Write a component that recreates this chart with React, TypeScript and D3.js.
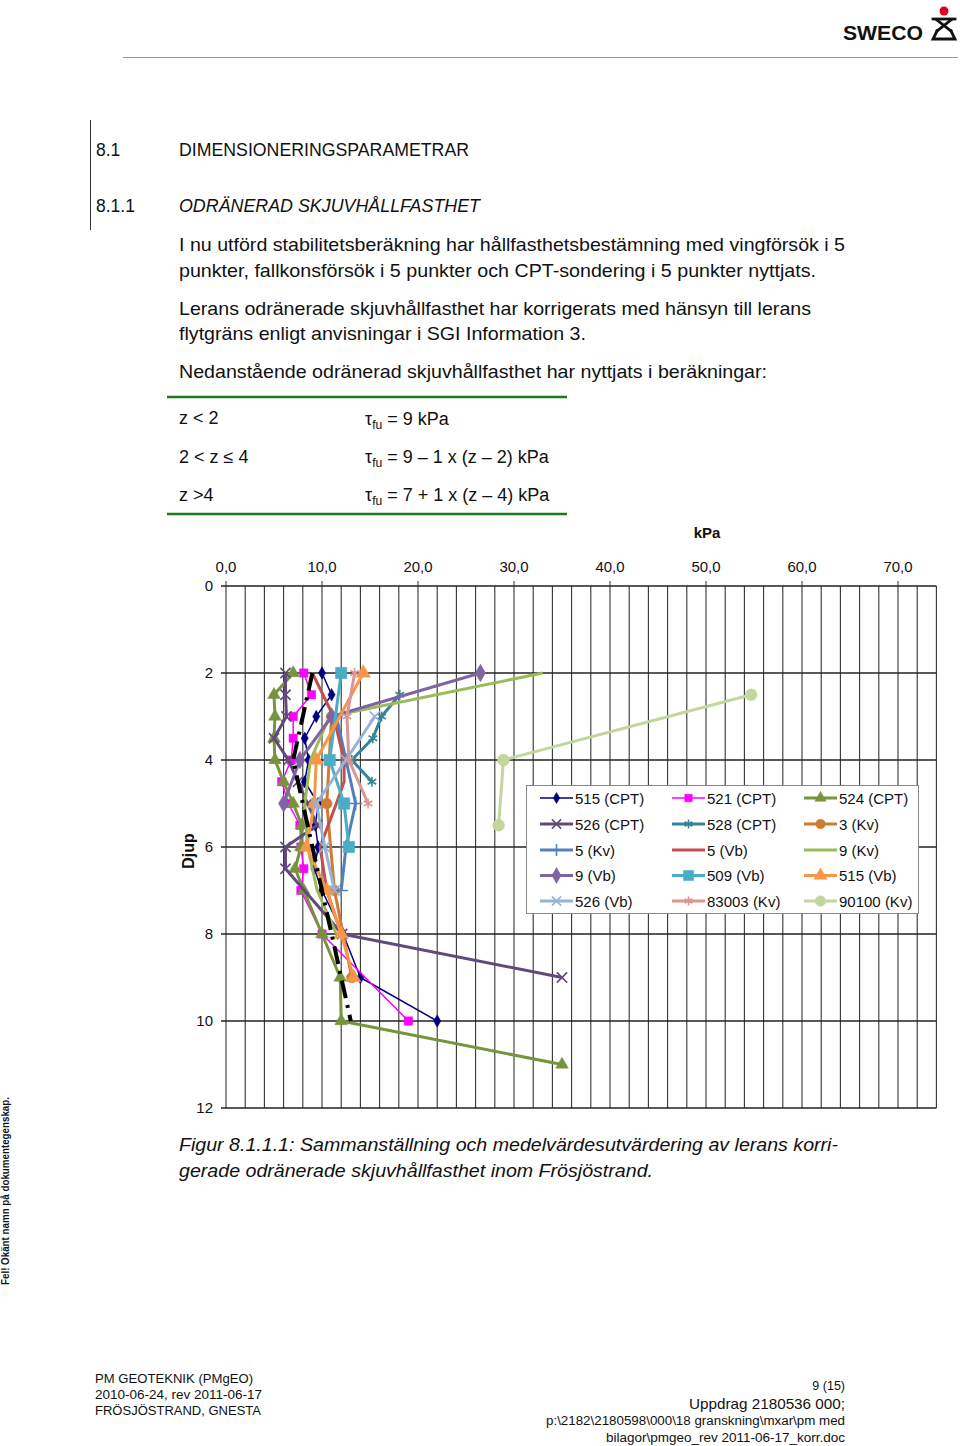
import React from 'react';
import * as d3 from 'd3';

// depth (m) and corrected undrained shear strength (kPa) per sounding
const z515CPT = [2, 2.5, 3, 3.5, 4, 4.5, 5, 5.5, 6, 6.5, 7, 8, 9, 10];
const v515CPT = [10, 11, 9.4, 8.2, 8.6, 8.2, 9.6, 9.3, 9.6, 9.2, 10, 12.2, 14, 22];
const z521CPT = [2, 2.5, 3, 3.5, 4, 4.5, 5, 5.5, 6, 6.5, 7, 8, 10];
const v521CPT = [8.1, 8.9, 7.0, 7.0, 6.8, 5.8, 6.5, 7.7, 7.8, 8.1, 7.8, 10, 19];
const z524CPT = [2, 2.5, 3, 3.5, 4, 4.5, 5, 5.5, 6, 6.5, 7, 8, 9, 10, 11];
const v524CPT = [7, 5, 5.1, 5, 5.1, 6, 7, 7.9, 7.8, 7.2, 8.1, 10, 11.9, 12, 35];
const z526CPT = [2, 2.5, 3, 3.5, 4, 4.5, 5, 5.5, 6, 6.5, 8, 9];
const v526CPT = [6.2, 6.2, 6.3, 5.0, 6.5, 7.5, 8.5, 9.5, 6.2, 6.2, 12.1, 35];
const z528CPT = [2.5, 3, 3.5, 4, 4.5];
const v528CPT = [18.1, 16.2, 15.3, 13.1, 15.2];
const z3Kv = [3, 5, 7, 9];
const v3Kv = [11, 10.5, 11.3, 13.1];
const z5Kv = [3, 4, 5, 6, 7];
const v5Kv = [11.5, 12.5, 13.5, 12.5, 12];
const z5Vb = [2, 3, 4, 4.5, 5, 6, 7, 8];
const v5Vb = [9, 11.2, 12.3, 12.3, 11.5, 9.8, 10.5, 12];
const z9Kv = [2, 3, 4, 5, 6, 7, 8];
const v9Kv = [33, 10.8, 8.8, 8.2, 8.5, 9.5, 11.5];
const z9Vb = [2, 3, 4, 5];
const v9Vb = [26.5, 11, 7.7, 6];
const z509Vb = [2, 4, 5, 6];
const v509Vb = [12, 10.8, 12.3, 12.8];
const z515Vb = [2, 4, 5, 6, 7, 8, 9];
const v515Vb = [14.3, 9.4, 9.2, 8.4, 10.5, 12, 13.3];
const z526Vb = [3, 4, 5, 6, 7];
const v526Vb = [15.5, 12.5, 9.4, 10.3, 11.3];
const z83003Kv = [2, 3, 4, 5];
const v83003Kv = [13.4, 12.6, 12.8, 14.8];
const z90100Kv = [2.5, 4, 5.5];
const v90100Kv = [54.7, 28.9, 28.4];

// evaluated design line (medelvärde)
const zDesign = [2, 4, 10];
const vDesign = [9, 7, 13];

const xTicks = [0, 10, 20, 30, 40, 50, 60, 70];
const yTicks = [0, 2, 4, 6, 8, 10, 12];

const series = [
  { name: '515 (CPT)', z: z515CPT, v: v515CPT, color: '#000080', w: 1.5, m: 'diamond', s: 45 },
  { name: '521 (CPT)', z: z521CPT, v: v521CPT, color: '#FF00FF', w: 1.5, m: 'square', s: 70 },
  { name: '524 (CPT)', z: z524CPT, v: v524CPT, color: '#77933C', w: 3, m: 'triangle', s: 70 },
  { name: '526 (CPT)', z: z526CPT, v: v526CPT, color: '#604A7B', w: 3, m: 'times', s: 70 },
  { name: '528 (CPT)', z: z528CPT, v: v528CPT, color: '#31859C', w: 3, m: 'asterisk', s: 70 },
  { name: '3 (Kv)', z: z3Kv, v: v3Kv, color: '#D07A34', w: 3, m: 'circle', s: 90 },
  { name: '5 (Kv)', z: z5Kv, v: v5Kv, color: '#4F81BD', w: 3, m: 'plus', s: 60 },
  { name: '5 (Vb)', z: z5Vb, v: v5Vb, color: '#C0504D', w: 3, m: 'none', s: 0 },
  { name: '9 (Kv)', z: z9Kv, v: v9Kv, color: '#9BBB59', w: 3, m: 'none', s: 0 },
  { name: '9 (Vb)', z: z9Vb, v: v9Vb, color: '#8064A2', w: 3, m: 'diamond', s: 90 },
  { name: '509 (Vb)', z: z509Vb, v: v509Vb, color: '#4BACC6', w: 3, m: 'square', s: 130 },
  { name: '515 (Vb)', z: z515Vb, v: v515Vb, color: '#F79646', w: 3, m: 'triangle', s: 90 },
  { name: '526 (Vb)', z: z526Vb, v: v526Vb, color: '#95B3D7', w: 3, m: 'times', s: 70 },
  { name: '83003 (Kv)', z: z83003Kv, v: v83003Kv, color: '#D99694', w: 3, m: 'asterisk', s: 70 },
  { name: '90100 (Kv)', z: z90100Kv, v: v90100Kv, color: '#C3D69B', w: 3, m: 'circle', s: 110 },
];

const symbolTypes: any = {
  diamond: d3.symbolDiamond,
  square: d3.symbolSquare,
  triangle: d3.symbolTriangle,
  circle: d3.symbolCircle,
  times: d3.symbolTimes,
  asterisk: d3.symbolAsterisk,
  plus: d3.symbolPlus,
};
const strokeMarkers = ['times', 'asterisk', 'plus'];

const x = d3.scaleLinear().domain([0, 74]).range([226, 936.4]);
const y = d3.scaleLinear().domain([0, 12]).range([586, 1108]);

function Marker({ s, cx, cy, scale = 1 }: any) {
  if (s.m === 'none') return null;
  const path = d3.symbol().type(symbolTypes[s.m]).size(s.s * scale)();
  const stroked = strokeMarkers.includes(s.m);
  return (
    <path
      d={path || ''}
      transform={`translate(${cx},${cy})`}
      fill={stroked ? 'none' : s.color}
      stroke={s.color}
      strokeWidth={stroked ? 1.6 : 0.5}
    />
  );
}

const bodyFont = "'Liberation Sans', Arial, sans-serif";

export default function App() {
  const line = d3
    .line<[number, number]>()
    .x((d) => x(d[1]))
    .y((d) => y(d[0]));

  const legendCols = [540, 672, 804];
  const legendRows = [798, 824, 850, 875.5, 901];

  const bodyLines = [
    { t: 'I nu utförd stabilitetsberäkning har hållfasthetsbestämning med vingförsök i 5', y: 251, w: 666 },
    { t: 'punkter, fallkonsförsök i 5 punkter och CPT-sondering i 5 punkter nyttjats.', y: 277, w: 637 },
    { t: 'Lerans odränerade skjuvhållfasthet har korrigerats med hänsyn till lerans', y: 315, w: 632 },
    { t: 'flytgräns enligt anvisningar i SGI Information 3.', y: 340, w: 407 },
    { t: 'Nedanstående odränerad skjuvhållfasthet har nyttjats i beräkningar:', y: 378, w: 588 },
  ];

  return (
    <svg
      width={960}
      height={1446}
      style={{ position: 'absolute', left: 0, top: 0, background: '#fff' }}
      fontFamily={bodyFont}
    >
      <rect width={960} height={1446} fill="#fff" />

      {/* header logo */}
      <text x={843} y={40} fontSize={20} fontWeight="bold" fill="#111" textLength={80} lengthAdjust="spacingAndGlyphs">
        SWECO
      </text>
      <circle cx={944} cy={11} r={4.5} fill="#e2001a" />
      <g stroke="#111" strokeWidth={2.8} fill="none" strokeLinecap="square">
        <line x1={933} y1={19} x2={955} y2={19} />
        <line x1={937} y1={20} x2={951} y2={31} />
        <line x1={951} y1={20} x2={937} y2={31} />
        <path d="M937,31 L933,39 L955,39 L951,31" />
      </g>
      <line x1={123} y1={57.5} x2={958} y2={57.5} stroke="#999" strokeWidth={1} />

      {/* section headings */}
      <line x1={90.5} y1={120} x2={90.5} y2={230} stroke="#333" strokeWidth={1} />
      <text x={96} y={156} fontSize={17.5} fill="#111">8.1</text>
      <text x={179} y={156} fontSize={17.5} fill="#111" textLength={290} lengthAdjust="spacingAndGlyphs">
        DIMENSIONERINGSPARAMETRAR
      </text>
      <text x={96} y={212} fontSize={17.5} fill="#111">8.1.1</text>
      <text x={179} y={212} fontSize={17.5} fontStyle="italic" fill="#111" textLength={301} lengthAdjust="spacingAndGlyphs">
        ODRÄNERAD SKJUVHÅLLFASTHET
      </text>

      {bodyLines.map((l) => (
        <text key={l.t} x={179} y={l.y} fontSize={18.5} fill="#111" textLength={l.w} lengthAdjust="spacingAndGlyphs">
          {l.t}
        </text>
      ))}

      {/* parameter table */}
      <line x1={167} y1={397} x2={567} y2={397} stroke="#1e7a1e" strokeWidth={2.5} />
      <line x1={167} y1={514} x2={567} y2={514} stroke="#1e7a1e" strokeWidth={2.5} />
      <g fontSize={18} fill="#111">
        <text x={179} y={424}>z &lt; 2</text>
        <text x={179} y={463}>2 &lt; z ≤ 4</text>
        <text x={179} y={501}>z &gt;4</text>
        <text x={365} y={425}>
          τ<tspan fontSize={12} dy={4}>fu</tspan>
          <tspan dy={-4}> = 9 kPa</tspan>
        </text>
        <text x={365} y={463}>
          τ<tspan fontSize={12} dy={4}>fu</tspan>
          <tspan dy={-4}> = 9 – 1 x (z – 2) kPa</tspan>
        </text>
        <text x={365} y={501}>
          τ<tspan fontSize={12} dy={4}>fu</tspan>
          <tspan dy={-4}> = 7 + 1 x (z – 4) kPa</tspan>
        </text>
      </g>

      {/* chart */}
      <text x={707} y={538} fontSize={15} fontWeight="bold" textAnchor="middle" fill="#111">kPa</text>
      <text transform="translate(194,851) rotate(-90)" fontSize={16} fontWeight="bold" textAnchor="middle" fill="#111">Djup</text>

      <g>
        {d3.range(0, 75, 2).map((v) => (
          <line key={'vx' + v} x1={x(v)} x2={x(v)} y1={y(0)} y2={y(12)} stroke="#333" strokeWidth={1.1} />
        ))}
        {yTicks.map((v) => (
          <line key={'hy' + v} x1={x(0) - 5} x2={x(74)} y1={y(v)} y2={y(v)} stroke="#222" strokeWidth={1.3} />
        ))}
        {xTicks.map((v) => (
          <line key={'tx' + v} x1={x(v)} x2={x(v)} y1={y(0) - 5} y2={y(0)} stroke="#333" strokeWidth={1} />
        ))}
        {xTicks.map((v) => (
          <text key={'lx' + v} x={x(v)} y={572} fontSize={15} textAnchor="middle" fill="#111">
            {d3.format('.1f')(v).replace('.', ',')}
          </text>
        ))}
        {yTicks.map((v) => (
          <text key={'ly' + v} x={213} y={y(v) + 5} fontSize={15} textAnchor="end" fill="#111">
            {v}
          </text>
        ))}
      </g>

      {series.map((s) => {
        const pts = s.z.map((zz, i) => [zz, s.v[i]] as [number, number]);
        return (
          <g key={s.name}>
            <path d={line(pts) || ''} fill="none" stroke={s.color} strokeWidth={s.w} strokeLinejoin="round" />
            {pts.map((p, i) => (
              <Marker key={i} s={s} cx={x(p[1])} cy={y(p[0])} />
            ))}
          </g>
        );
      })}

      <path
        d={line(zDesign.map((zz, i) => [zz, vDesign[i]] as [number, number])) || ''}
        fill="none"
        stroke="#000"
        strokeWidth={4}
        strokeDasharray="18 7 3 7"
      />

      {/* legend */}
      <rect x={526.5} y={785.5} width={392} height={128} fill="#fff" stroke="#888" strokeWidth={1} />
      {series.map((s, i) => {
        const lx = legendCols[i % 3];
        const ly = legendRows[Math.floor(i / 3)];
        return (
          <g key={'lg' + s.name}>
            <line x1={lx} x2={lx + 33} y1={ly} y2={ly} stroke={s.color} strokeWidth={s.w} />
            <Marker s={s} cx={lx + 16.5} cy={ly} scale={0.8} />
            <text x={lx + 35} y={ly + 5.5} fontSize={15} fill="#111">
              {s.name}
            </text>
          </g>
        );
      })}

      {/* caption */}
      <text x={179} y={1151} fontSize={18.5} fontStyle="italic" fill="#111" textLength={659} lengthAdjust="spacingAndGlyphs">
        Figur 8.1.1.1: Sammanställning och medelvärdesutvärdering av lerans korri-
      </text>
      <text x={179} y={1177} fontSize={18.5} fontStyle="italic" fill="#111" textLength={474} lengthAdjust="spacingAndGlyphs">
        gerade odränerade skjuvhållfasthet inom Frösjöstrand.
      </text>

      {/* side note */}
      <text transform="translate(9,1285) rotate(-90)" fontSize={10} fontWeight="bold" fill="#111" textLength={188} lengthAdjust="spacingAndGlyphs">
        Fel! Okänt namn på dokumentegenskap.
      </text>

      {/* footer */}
      <g fontSize={12.5} fill="#111" fontFamily="'Liberation Sans Narrow', 'Liberation Sans', Arial, sans-serif">
        <text x={95} y={1383} textLength={158} lengthAdjust="spacingAndGlyphs">PM GEOTEKNIK (PMgEO)</text>
        <text x={95} y={1399} textLength={167} lengthAdjust="spacingAndGlyphs">2010-06-24, rev 2011-06-17</text>
        <text x={95} y={1415} textLength={166} lengthAdjust="spacingAndGlyphs">FRÖSJÖSTRAND, GNESTA</text>
        <text x={845} y={1390} textAnchor="end">9 (15)</text>
        <text x={689} y={1409} fontSize={15} textLength={156} lengthAdjust="spacingAndGlyphs">Uppdrag 2180536 000;</text>
        <text x={546} y={1425} textLength={299} lengthAdjust="spacingAndGlyphs">p:\2182\2180598\000\18 granskning\mxar\pm med</text>
        <text x={606} y={1442} textLength={239} lengthAdjust="spacingAndGlyphs">bilagor\pmgeo_rev 2011-06-17_korr.doc</text>
      </g>
    </svg>
  );
}
